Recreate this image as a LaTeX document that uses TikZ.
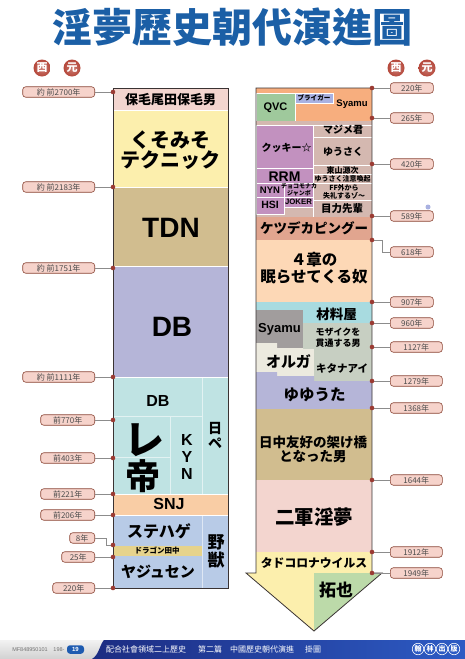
\documentclass[tikz,border=0pt]{standalone}
\usepackage{fontspec}
\setmainfont{Liberation Sans}
\newfontfamily\jp{Noto Sans CJK JP}
\newfontfamily\tcf{Noto Sans CJK TC}
\newcommand\fsz[2]{\fontsize{#1}{#2}\selectfont}
\definecolor{cpink}{HTML}{F3D5CF}
\definecolor{cyel}{HTML}{FCEFAD}
\definecolor{ctan}{HTML}{D1BD8F}
\definecolor{clav}{HTML}{B5B5D8}
\definecolor{ccyan}{HTML}{BFE3E3}
\definecolor{cpeach}{HTML}{F9CDA5}
\definecolor{cblue}{HTML}{B8CBE7}
\definecolor{cdrag}{HTML}{E6D38C}
\definecolor{corange}{HTML}{F7AE7E}
\definecolor{cgreen}{HTML}{9FC99C}
\definecolor{cbly}{HTML}{A9B1E1}
\definecolor{cpurp}{HTML}{C291BF}
\definecolor{cdusty}{HTML}{D4B8B0}
\definecolor{csalmon}{HTML}{E1A58F}
\definecolor{cpeachb}{HTML}{FDD8B6}
\definecolor{ccyanb}{HTML}{A8DBE0}
\definecolor{cgray}{HTML}{A19D9D}
\definecolor{csage}{HTML}{C7CFC2}
\definecolor{ccream}{HTML}{ECEADF}
\definecolor{cgreenb}{HTML}{BCDAA9}
\definecolor{lblfill}{HTML}{F6D3CB}
\definecolor{lbldraw}{HTML}{8A4535}
\definecolor{dotc}{HTML}{9B3B33}
\definecolor{titleblue}{HTML}{1B5FA6}
\definecolor{badge}{HTML}{B5473A}
\definecolor{foot}{HTML}{1C2C82}
\definecolor{footr}{HTML}{2D5BC4}
\definecolor{pill}{HTML}{1E5BB0}
\definecolor{outl}{HTML}{3A3333}
\begin{document}
\begin{tikzpicture}[x=1pt,y=-1pt,
  sep/.style={draw=white,line width=0.6pt},
  faint/.style={draw=white,draw opacity=0.55,line width=0.6pt},
  jb/.style={font=\jp\bfseries,inner sep=0pt},
  lb/.style={font=\bfseries,inner sep=0pt},
  lbl/.style={draw=lbldraw,fill=lblfill,rounded corners=3pt,minimum height=10.5pt,inner sep=0pt,font=\jp\fsz{8}{8},text=black!70,line width=0.6pt},
  dotn/.style={circle,fill=dotc,inner sep=0pt,minimum size=4.6pt},
  conn/.style={draw=black!45,line width=0.6pt},
  bdg/.style={circle,inner color=badge!70,outer color=badge,minimum size=17pt,inner sep=0pt,text=white,font=\jp\bfseries\fsz{11}{11}},
  hl/.style={circle,draw=white,fill=footr,minimum size=11.5pt,inner sep=0pt,text=white,font=\tcf\bfseries\fsz{7}{7},line width=0.6pt},
]
\useasboundingbox (0,0) rectangle (465,659);
\fill[white] (0,0) rectangle (465,659);

% title
\node[font=\tcf\bfseries\fsz{40}{40},text=titleblue,inner sep=0pt] (title) at (232.5,27) {淫夢歷史朝代演進圖};
\node[bdg] (bl1) at (42,68) {西};
\node[bdg] (bl2) at (72,68) {元};
\node[bdg] (br1) at (396,68) {西};
\node[bdg] (br2) at (427,68) {元};

% ---------------- left column ----------------
\path[fill=cpink,sep] (113,88) rectangle (228,110);
\path[fill=cyel,sep] (113,110) rectangle (228,187);
\path[fill=ctan,sep] (113,187) rectangle (228,266);
\path[fill=clav,sep] (113,266) rectangle (228,377);
\path[fill=ccyan,sep] (113,377) rectangle (228,494);
\draw[faint] (202,377) -- (202,494) (113,416) -- (202,416) (170,416) -- (170,494) (113,457) -- (170,457);
\path[fill=cpeach,sep] (113,494) rectangle (228,515);
\path[fill=cblue,sep] (113,515) rectangle (228,588);
\draw[faint] (202,515) -- (202,588);
\path[fill=cdrag] (113,546) rectangle (202,556);
\draw[outl,line width=0.8pt] (113,88) rectangle (228,588);

\node[jb,font=\jp\bfseries\fsz{13}{13}] (t1) at (170.5,100) {保毛尾田保毛男};
\node[jb,font=\jp\bfseries\fsz{20}{20}] (t2a) at (170.5,140) {くそみそ};
\node[jb,font=\jp\bfseries\fsz{20}{20}] (t2b) at (170.5,160) {テクニック};
\node[lb,font=\bfseries\fsz{28}{28}] (t3) at (171,228) {TDN};
\node[lb,font=\bfseries\fsz{28}{28}] (t4) at (172,327) {DB};
\node[lb,font=\bfseries\fsz{16}{16}] (t5) at (158,401) {DB};
\node[jb,font=\jp\bfseries\fsz{40}{40}] (t6a) at (144,440) {レ};
\node[jb,font=\jp\bfseries\fsz{35}{35}] (t6b) at (143,476) {帝};
\node[lb,font=\bfseries\fsz{16}{17},align=center] (t7) at (187,457) {K\\Y\\N};
\node[jb,font=\jp\bfseries\fsz{14}{15},align=center] (t8) at (215,435.5) {日\\ペ};
\node[lb,font=\bfseries\fsz{16}{16}] (t9) at (169,504) {SNJ};
\node[jb,font=\jp\bfseries\fsz{16}{16}] (t10) at (159,531) {ステハゲ};
\node[jb,font=\jp\bfseries\fsz{7.5}{8}] (t11) at (157,551) {ドラゴン田中};
\node[jb,font=\jp\bfseries\fsz{15}{15}] (t12) at (158,572) {ヤジュセン};
\node[jb,font=\jp\bfseries\fsz{17}{18},align=center] (t13) at (216,551.5) {野\\獣};

% left labels
\node[lbl,anchor=east,minimum width=72pt] (l1) at (95,92) {約 前2700年};
\node[lbl,anchor=east,minimum width=72pt] (l2) at (95,187) {約 前2183年};
\node[lbl,anchor=east,minimum width=72pt] (l3) at (95,268) {約 前1751年};
\node[lbl,anchor=east,minimum width=72pt] (l4) at (95,377) {約 前1111年};
\node[lbl,anchor=east,minimum width=54pt] (l5) at (95,420) {前770年};
\node[lbl,anchor=east,minimum width=54pt] (l6) at (95,458) {前403年};
\node[lbl,anchor=east,minimum width=54pt] (l7) at (95,494) {前221年};
\node[lbl,anchor=east,minimum width=54pt] (l8) at (95,515) {前206年};
\node[lbl,anchor=east,minimum width=25pt] (l9) at (95,538) {8年};
\node[lbl,anchor=east,minimum width=33pt] (l10) at (95,557) {25年};
\node[lbl,anchor=east,minimum width=42pt] (l11) at (95,588) {220年};
\coordinate (dl1) at (113,92);
\coordinate (dl2) at (113,187);
\coordinate (dl3) at (113,268);
\coordinate (dl4) at (113,377);
\coordinate (dl5) at (113,420);
\coordinate (dl6) at (113,458);
\coordinate (dl7) at (113,494);
\coordinate (dl8) at (113,515);
\coordinate (dl9) at (113,545);
\coordinate (dl10) at (113,557);
\coordinate (dl11) at (113,588);
\foreach \i in {1,...,8,10,11} {\draw[conn] (l\i.east) -- (dl\i);}
\draw[conn] (l9.east) -- (106,538) -- (106,545) -- (dl9);
\foreach \i in {1,...,11} {\node[dotn] (pl\i) at (dl\i) {};}

% ---------------- right column ----------------
\path[fill=corange] (256,88) rectangle (372,121);
\path[fill=cgreen,sep] (256,93) rectangle (295,121);
\path[fill=cbly,sep] (295,93) rectangle (333,103);
\path[fill=cdusty] (256,121) rectangle (372,217);
\path[fill=cpurp,sep] (256,125) rectangle (313,168);
\path[fill=cpurp,sep] (256,168) rectangle (313,183);
\path[fill=cpurp,sep] (256,183) rectangle (284,197);
\path[fill=cpurp,sep] (256,197) rectangle (284,214);
\path[fill=cpurp,sep] (284,183) rectangle (313,197);
\path[fill=cpurp,sep] (284,197) rectangle (313,207);
\path[fill=cdusty,sep] (313,125) rectangle (372,137);
\path[fill=cdusty,sep] (313,137) rectangle (372,165);
\path[fill=cdusty,sep] (313,165) rectangle (372,174);
\path[fill=cdusty,sep] (313,174) rectangle (372,183);
\path[fill=cdusty,sep] (313,183) rectangle (372,200);
\path[fill=cdusty,sep] (313,200) rectangle (372,217);
\path[fill=csalmon] (256,217) rectangle (372,240);
\path[fill=cpeachb] (256,240) rectangle (372,302);
\path[fill=ccyanb] (256,302) rectangle (372,323);
\path[fill=csage] (303,323) rectangle (372,349);
\path[fill=cgray] (256,310) rectangle (303,348);
\path[fill=ccream] (256,343) -- (277,343) -- (277,348) -- (303,348) -- (303,349) -- (314,349) -- (314,376) -- (277,376) -- (277,372) -- (256,372) -- cycle;
\path[fill=csage] (314,349) rectangle (372,381);
\path[fill=clav] (256,372) -- (277,372) -- (277,376) -- (314,376) -- (314,381) -- (372,381) -- (372,409) -- (256,409) -- cycle;
\path[fill=ctan] (256,409) rectangle (372,480);
\path[fill=cpink] (256,480) rectangle (372,552);
\path[fill=cyel] (256,552) rectangle (372,573.5);
\path[fill=cyel] (246,573) -- (314,573) -- (314,631) -- cycle;
\path[fill=cgreenb] (314,573) -- (382,573) -- (314,631) -- cycle;
\draw[outl,line width=0.8pt] (256,88) -- (372,88) -- (372,573) -- (382,573) -- (314,631) -- (246,573) -- (256,573) -- cycle;

\node[lb,font=\bfseries\fsz{11}{11}] (u1) at (275.5,108) {QVC};
\node[jb,font=\jp\bfseries\fsz{6.6}{7}] (u2) at (314,98) {ブライガー};
\node[lb,font=\bfseries\fsz{9.5}{10}] (u3) at (352,104) {Syamu};
\node[jb,font=\jp\bfseries\fsz{10}{10}] (u4) at (286.5,148) {クッキー☆};
\node[jb,font=\jp\bfseries\fsz{10}{10}] (u5) at (343,130) {マジメ君};
\node[jb,font=\jp\bfseries\fsz{10}{10}] (u6) at (343,152) {ゆうさく};
\node[lb,font=\bfseries\fsz{14}{14}] (u7) at (284.5,177) {RRM};
\node[jb,font=\jp\bfseries\fsz{8}{8}] (u8) at (342.5,170) {東山源次};
\node[jb,font=\jp\bfseries\fsz{7}{7}] (u9) at (342.5,179) {ゆうさく注意喚起};
\node[lb,font=\bfseries\fsz{9.5}{10}] (u10) at (270,190) {NYN};
\node[jb,font=\jp\bfseries\fsz{6}{6}] (u11a) at (299,186.5) {チョコモナカ};
\node[jb,font=\jp\bfseries\fsz{6}{6}] (u11b) at (299,193) {ジャンボ};
\node[lb,font=\bfseries\fsz{7.8}{8}] (u12) at (298.5,201.5) {JOKER};
\node[lb,font=\bfseries\fsz{10.5}{11}] (u13) at (270,205) {HSI};
\node[jb,font=\jp\bfseries\fsz{7}{7}] (u14a) at (344,188) {FF外から};
\node[jb,font=\jp\bfseries\fsz{7}{7}] (u14b) at (344,195.5) {失礼するゾ〜};
\node[jb,font=\jp\bfseries\fsz{10.5}{11}] (u15) at (342,208.5) {目力先輩};
\node[jb,font=\jp\bfseries\fsz{13.5}{14}] (u16) at (314,228.5) {ケツデカピングー};
\node[jb,font=\jp\bfseries\fsz{15.5}{16}] (u17a) at (314,260) {４章の};
\node[jb,font=\jp\bfseries\fsz{15.5}{16}] (u17b) at (314,277) {眠らせてくる奴};
\node[jb,font=\jp\bfseries\fsz{13.5}{14}] (u18) at (336.5,314) {材料屋};
\node[lb,font=\bfseries\fsz{13}{13}] (u19) at (279.5,329) {Syamu};
\node[jb,font=\jp\bfseries\fsz{9}{9}] (u20a) at (338,332) {モザイクを};
\node[jb,font=\jp\bfseries\fsz{9}{9}] (u20b) at (338,343.5) {貫通する男};
\node[jb,font=\jp\bfseries\fsz{15}{15}] (u21) at (288.5,362) {オルガ};
\node[jb,font=\jp\bfseries\fsz{10.5}{11}] (u22) at (342,368) {キタナアイ};
\node[jb,font=\jp\bfseries\fsz{15.5}{16}] (u23) at (314.5,395) {ゆゆうた};
\node[jb,font=\jp\bfseries\fsz{13.5}{14}] (u24a) at (313,442) {日中友好の架け橋};
\node[jb,font=\jp\bfseries\fsz{13.5}{14}] (u24b) at (313,456.5) {となった男};
\node[jb,font=\jp\bfseries\fsz{19.5}{20}] (u25) at (314,517) {二軍淫夢};
\node[jb,font=\jp\bfseries\fsz{11.8}{12}] (u26) at (314,563) {タドコロナウイルス};
\node[jb,font=\jp\bfseries\fsz{17}{17}] (u27) at (336,590) {拓也};

% right labels
\node[lbl,anchor=west,minimum width=43pt] (r1) at (390,88) {220年};
\node[lbl,anchor=west,minimum width=43pt] (r2) at (390,118) {265年};
\node[lbl,anchor=west,minimum width=43pt] (r3) at (390,164) {420年};
\node[lbl,anchor=west,minimum width=43pt] (r4) at (390,216) {589年};
\node[lbl,anchor=west,minimum width=43pt] (r5) at (390,252) {618年};
\node[lbl,anchor=west,minimum width=43pt] (r6) at (390,302) {907年};
\node[lbl,anchor=west,minimum width=43pt] (r7) at (390,323) {960年};
\node[lbl,anchor=west,minimum width=52pt] (r8) at (390,347) {1127年};
\node[lbl,anchor=west,minimum width=52pt] (r9) at (390,381) {1279年};
\node[lbl,anchor=west,minimum width=52pt] (r10) at (390,408) {1368年};
\node[lbl,anchor=west,minimum width=52pt] (r11) at (390,480) {1644年};
\node[lbl,anchor=west,minimum width=52pt] (r12) at (390,552) {1912年};
\node[lbl,anchor=west,minimum width=52pt] (r13) at (390,573) {1949年};
\coordinate (dr1) at (372,88);
\coordinate (dr2) at (372,118);
\coordinate (dr3) at (372,164);
\coordinate (dr4) at (372,216);
\coordinate (dr5) at (372,240);
\coordinate (dr6) at (372,302);
\coordinate (dr7) at (372,323);
\coordinate (dr8) at (372,347);
\coordinate (dr9) at (372,381);
\coordinate (dr10) at (372,408);
\coordinate (dr11) at (372,480);
\coordinate (dr12) at (372,552);
\coordinate (dr13) at (372,573);
\foreach \i in {1,2,3,4,6,7,8,9,10,11,12,13} {\draw[conn] (dr\i) -- (r\i.west);}
\draw[conn] (dr5) -- (382,240) -- (382,252) -- (r5.west);
\foreach \i in {1,...,13} {\node[dotn] (pr\i) at (dr\i) {};}
\node[circle,fill=cbly,inner sep=0pt,minimum size=5pt] (stray) at (428,207) {};

% ---------------- footer ----------------
\fill[top color=black!5,bottom color=black!18] (0,640) rectangle (110,659);
\shade[left color=foot,right color=footr] (104,640) -- (465,640) -- (465,659) -- (92,659) .. controls (99,655) and (100,644) .. (104,640) -- cycle;
\node[font=\fsz{5.5}{6},text=black!55,inner sep=0pt] (mf) at (30,649.5) {MF848950101};
\node[font=\fsz{5.5}{6},text=black!55,inner sep=0pt] (p198) at (59,649.5) {198-};
\node[fill=pill,rounded corners=3pt,text=white,font=\bfseries\fsz{6}{6},minimum width=17pt,minimum height=8.5pt,inner sep=0pt] (p19) at (75.5,649.5) {19};
\node[font=\tcf\fsz{8}{8},text=white,anchor=west,inner sep=0pt] (f1) at (106,649.5) {配合社會領域二上歷史};
\node[font=\tcf\fsz{8}{8},text=white,anchor=west,inner sep=0pt] (f2) at (198,649.5) {第二篇};
\node[font=\tcf\fsz{8}{8},text=white,anchor=west,inner sep=0pt] (f3) at (230,649.5) {中國歷史朝代演進};
\node[font=\tcf\fsz{8}{8},text=white,anchor=west,inner sep=0pt] (f4) at (305,649.5) {掛圖};
\node[hl] (h1) at (418,649) {翰};
\node[hl] (h2) at (430,649) {林};
\node[hl] (h3) at (442,649) {出};
\node[hl] (h4) at (454,649) {版};
\end{tikzpicture}
\end{document}
